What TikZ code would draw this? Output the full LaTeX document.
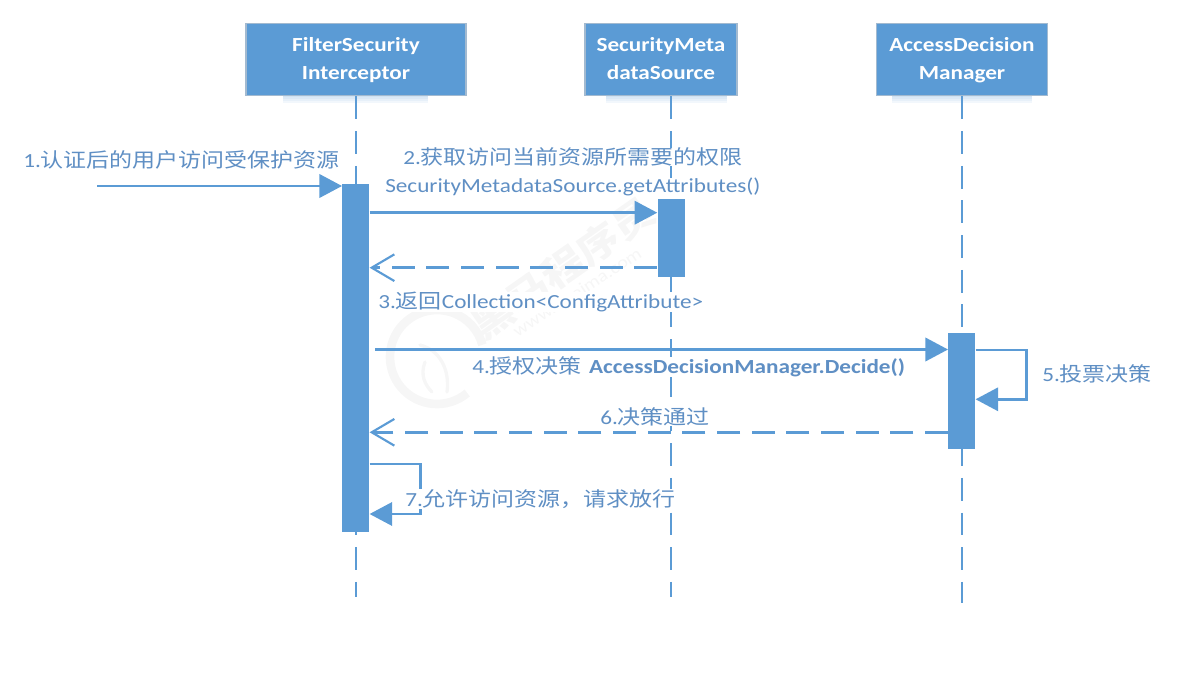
\documentclass[tikz,border=0pt]{standalone}
\usepackage{fontspec}
\setmainfont[FakeStretch=1.16]{Carlito}
\newfontfamily\cjk[FakeStretch=1.15]{Noto Sans CJK SC}
\usetikzlibrary{arrows.meta,calc}
\definecolor{mainblue}{HTML}{5B9BD5}
\definecolor{labelblue}{HTML}{5F8FC4}
\definecolor{edgeblue}{HTML}{A3BAD0}
\newcommand{\cn}[1]{{\cjk\fontsize{15pt}{18pt}\selectfont #1}}
\tikzset{
  actor/.style={draw=edgeblue,line width=0.9pt,fill=mainblue,text=white,align=center,inner sep=0pt,
    font=\fontsize{15pt}{21pt}\selectfont\bfseries},
  activation/.style={fill=mainblue,draw=none,inner sep=0pt,minimum width=20.25pt},
  lifeline/.style={draw=mainblue,line width=2.1pt,dash pattern=on 17.2pt off 8.8pt},
  sync/.style={draw=mainblue,line width=2.1pt,-{Triangle[length=17pt,width=17.5pt,fill=mainblue]}},
  reply/.style={draw=mainblue,line width=2pt,dash pattern=on 17.2pt off 8.8pt,
    -{Straight Barb[length=17pt,width=20pt,line width=1.6pt]}},
  msg/.style={text=labelblue,fill=white,inner sep=0pt,font=\fontsize{15pt}{18pt}\selectfont},
  shadowrect/.style={fill=mainblue,opacity=0.08,draw=none},
  wm/.style={text=black!3.5,inner sep=0pt},
}
\begin{document}
\begin{tikzpicture}[x=0.75pt,y=-0.75pt]
\useasboundingbox (0,0) rectangle (1196,677);
% soft shadows below the boxes
\foreach \l/\r in {283/428,606/727,892/1032}{
  \foreach \d in {2,4,6,8}{
    \fill[shadowrect] (\l,95) rectangle (\r,95+\d);
  }
}
% watermark
\draw[black!3.5,line width=6.5pt] (437,357) ++(50:47) arc[start angle=50,end angle=345,radius=47];
\draw[black!3.5,line width=2.5pt,line cap=round] (420,345) .. controls (440,350) and (450,370) .. (447,392);
\draw[black!3.5,line width=2.5pt,line cap=round] (425,362) .. controls (420,375) and (425,385) .. (432,392);
\node[wm,rotate=35,font=\cjk\bfseries\fontsize{28pt}{30pt}\selectfont] (wmtext) at (563,268) {黑马程序员};
\node[wm,rotate=33,font=\fontsize{13pt}{15pt}\selectfont] (wmurl) at (577,292) {www.itheima.com};
% actors
\node[actor,minimum width=165pt,minimum height=54pt] (a) at (356,59.5) {\strut FilterSecurity\\\strut Interceptor};
\node[actor,minimum width=114pt,minimum height=54pt] (b) at (661,59.5) {\strut SecurityMeta\\\strut dataSource};
\node[actor,minimum width=128pt,minimum height=54pt] (c) at (962,59.5) {\strut AccessDecision\\\strut Manager};
% lifeline ends
\coordinate (ae) at (356,597);
\coordinate (be) at (671,597);
\coordinate (ce) at (962,603);
\draw[lifeline] (356,96.5) -- (ae);
\draw[lifeline] (671,96.5) -- (be);
\draw[lifeline] (962,96.5) -- (ce);
% activations
\node[activation,minimum height=260.5pt] (aa) at (355.8,358) {};
\node[activation,minimum height=58.5pt] (ab) at (671,238) {};
\node[activation,minimum height=87pt] (ac) at (961.8,391) {};
% message 1
\coordinate (start) at (97,186);
\draw[sync] (start) -- (start -| aa.west);
\node[msg,anchor=west] (m1) at (23,160) {1.\cn{认证后的用户访问受保护资源}};
% message 2
\draw[sync] (aa.east |- 0,212.7) -- (ab.west |- 0,212.7);
\node[msg,anchor=west] (m2) at (403,157) {2.\cn{获取访问当前资源所需要的权限}};
\node[msg,anchor=west] (m2b) at (385,187) {SecurityMetadataSource.getAttributes()};
% message 3
\draw[reply] (ab.west |- 0,267.7) -- (aa.east |- 0,267.7);
\node[msg,anchor=west] (m3) at (378,302) {3.\cn{返回}Collection<ConfigAttribute>};
% message 4
\coordinate (s4) at (375,349.5);
\draw[sync] (s4) -- (s4 -| ac.west);
\node[msg,anchor=west] (m4) at (472,367) {4.\cn{授权决策}\hspace{1.5pt} \textbf{AccessDecisionManager.Decide()}};
% message 5
\draw[sync] (ac.east |- 0,350) -- (1026.7,350) -- (1026.7,399.3) -- (ac.east |- 0,399.3);
\node[msg,anchor=west] (m5) at (1042,374) {5.\cn{投票决策}};
% message 6
\draw[reply] (ac.west |- 0,432.3) -- (aa.east |- 0,432.3);
\node[msg,anchor=west] (m6) at (600,417) {6.\cn{决策通过}};
% message 7
\draw[sync] (aa.east |- 0,464) -- (420.7,464) -- (420.7,514) -- (aa.east |- 0,514);
\node[msg,anchor=west] (m7) at (405,499) {7.\cn{允许访问资源，请求放行}};
\end{tikzpicture}
\end{document}
